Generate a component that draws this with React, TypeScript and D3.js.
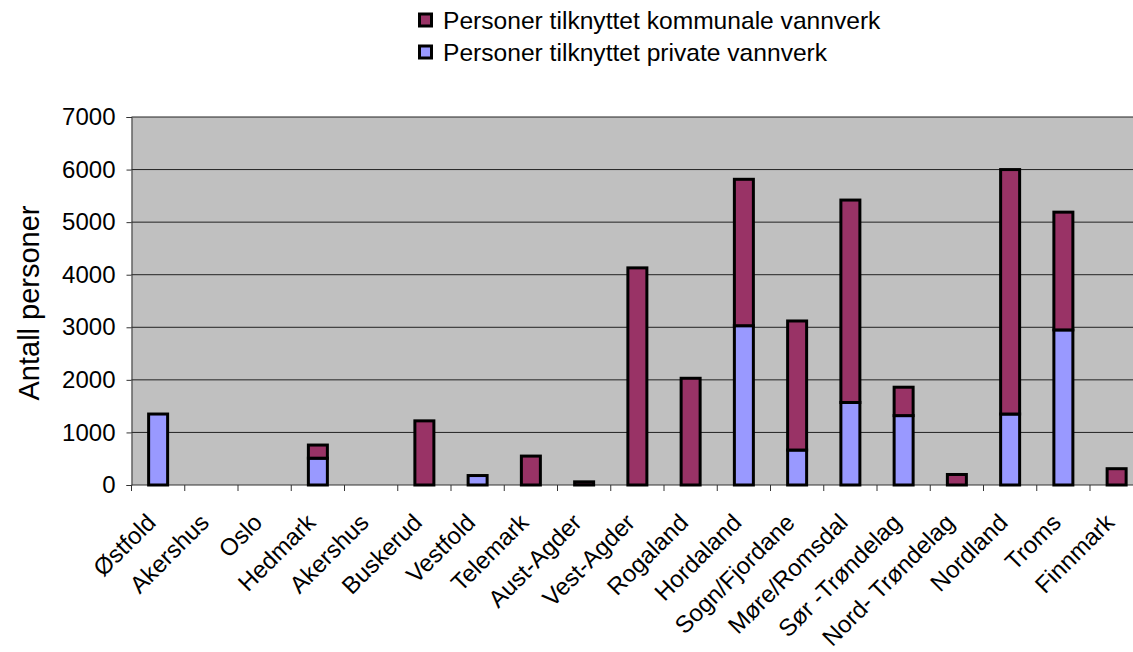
import React, { useEffect, useRef } from 'react'
import * as d3 from 'd3'

const fylker = [
  'Østfold', 'Akershus', 'Oslo', 'Hedmark', 'Akershus', 'Buskerud', 'Vestfold', 'Telemark',
  'Aust-Agder', 'Vest-Agder', 'Rogaland', 'Hordaland', 'Sogn/Fjordane', 'Møre/Romsdal',
  'Sør -Trøndelag', 'Nord- Trøndelag', 'Nordland', 'Troms', 'Finnmark',
]
const privateVerk = [1350, 0, 0, 510, 0, 0, 180, 0, 0, 0, 0, 3030, 665, 1570, 1320, 0, 1350, 2950, 0]
const kommunaleVerk = [0, 0, 0, 250, 0, 1220, 0, 550, 60, 4130, 2030, 2785, 2455, 3850, 540, 200, 4650, 2240, 310]
const yTicks = [0, 1000, 2000, 3000, 4000, 5000, 6000, 7000]
const seriesNames = ['Personer tilknyttet kommunale vannverk', 'Personer tilknyttet private vannverk']
const colors = ['#993366', '#9999ff']

export default function App() {
  const ref = useRef<SVGSVGElement>(null)

  useEffect(() => {
    document.body.style.margin = '0'
    const el = ref.current
    if (!el) return
    const width = 1133
    const height = 652
    const left = 131.5
    const right = left + 19 * 53.25
    const top = 117
    const bottom = 485

    const svg = d3.select(el).attr('width', width).attr('height', height)
    svg.selectAll('*').remove()
    const font = '"Liberation Sans", Arial, sans-serif'

    const x = d3.scaleBand<number>().domain(d3.range(fylker.length)).range([left, right])
    const y = d3.scaleLinear().domain([0, 7000]).range([bottom, top])

    svg.append('rect').attr('x', left).attr('y', top).attr('width', right - left).attr('height', bottom - top)
      .attr('fill', '#c0c0c0')

    // gridlines
    svg.append('g').selectAll('line').data(yTicks.slice(1)).join('line')
      .attr('x1', left).attr('x2', right).attr('y1', d => y(d)).attr('y2', d => y(d))
      .attr('stroke', '#222').attr('stroke-width', 1)

    // y axis
    const yAxis = d3.axisLeft(y).tickValues(yTicks).tickSize(5).tickFormat(d3.format('d'))
    const ya = svg.append('g').attr('transform', `translate(${left},0)`).call(yAxis)
    ya.selectAll('text').attr('font-family', font).attr('font-size', 24).attr('fill', '#000').attr('x', -16)
    ya.selectAll('.domain, .tick line').attr('stroke', '#333')

    // x axis ticks at category boundaries
    const bounds = d3.range(fylker.length + 1).map(i => left + i * x.step())
    svg.append('g').selectAll('line').data(bounds).join('line')
      .attr('x1', d => d).attr('x2', d => d).attr('y1', bottom).attr('y2', bottom + 6)
      .attr('stroke', '#333')
    svg.append('line').attr('x1', left).attr('x2', right).attr('y1', bottom).attr('y2', bottom).attr('stroke', '#333')

    // stacked bars
    const bw = 19
    const g = svg.append('g')
    fylker.forEach((_, i) => {
      const cx = x(i)! + x.bandwidth() / 2
      const p = privateVerk[i]
      const k = kommunaleVerk[i]
      if (p > 0) {
        g.append('rect').attr('x', cx - bw / 2).attr('y', y(p)).attr('width', bw).attr('height', y(0) - y(p))
          .attr('fill', colors[1]).attr('stroke', '#000').attr('stroke-width', 3)
      }
      if (k > 0) {
        g.append('rect').attr('x', cx - bw / 2).attr('y', y(p + k)).attr('width', bw).attr('height', y(p) - y(p + k))
          .attr('fill', colors[0]).attr('stroke', '#000').attr('stroke-width', 3)
      }
    })

    // category labels
    svg.append('g').selectAll('text').data(fylker).join('text')
      .attr('transform', (_, i) => `translate(${x(i)! + x.bandwidth() / 2 - 1},${bottom + 39}) rotate(-45)`)
      .attr('text-anchor', 'end')
      .attr('font-family', font).attr('font-size', 24).attr('fill', '#000')
      .text(d => d)

    // y title
    svg.append('text').attr('transform', `translate(39,${(top + bottom) / 2 + 2}) rotate(-90)`)
      .attr('text-anchor', 'middle').attr('font-family', font).attr('font-size', 29).attr('fill', '#000')
      .text('Antall personer')

    // legend
    const lg = svg.append('g').attr('transform', 'translate(418,12)')
    seriesNames.forEach((name, i) => {
      lg.append('rect').attr('x', 1.5).attr('y', i * 32 + 2).attr('width', 12).attr('height', 12)
        .attr('fill', colors[i]).attr('stroke', '#000').attr('stroke-width', 3)
      lg.append('text').attr('x', 25).attr('y', i * 32 + 17)
        .attr('font-family', font).attr('font-size', 24.6).attr('fill', '#000').text(name)
    })
  }, [])

  return <svg ref={ref} style={{ display: 'block' }} />
}
